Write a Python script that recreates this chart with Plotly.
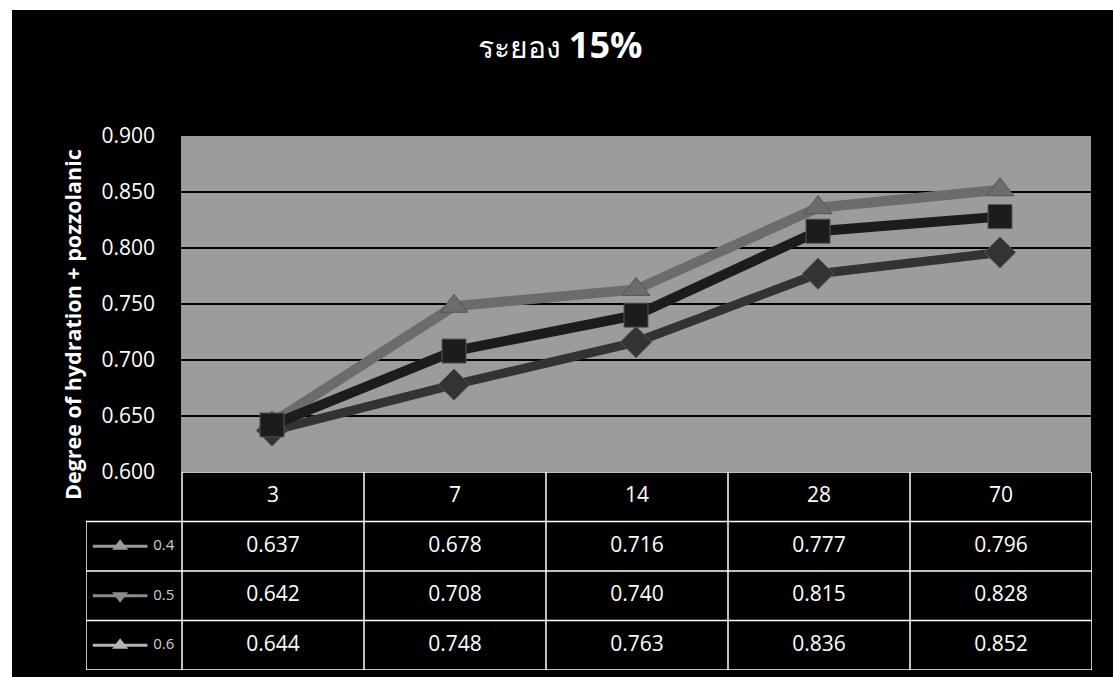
import plotly.graph_objects as go

# ---- data ----
categories = ["3", "7", "14", "28", "70"]
series_names = ["0.4", "0.5", "0.6"]
s04 = [0.637, 0.678, 0.716, 0.777, 0.796]
s05 = [0.642, 0.708, 0.740, 0.815, 0.828]
s06 = [0.644, 0.748, 0.763, 0.836, 0.852]
y_ticks = [0.600, 0.650, 0.700, 0.750, 0.800, 0.850, 0.900]
title_text = "ระยอง"
title_pct = "15%"
y_title = "Degree of hydration + pozzolanic"

series_vals = [s04, s05, s06]

W, H = 1113, 677
def px(x):
    return x / W
def py(y):
    return 1 - y / H

FONT = "Open Sans, Noto Sans, sans-serif"

line_colors = ["#333333", "#1c1c1c", "#6c6c6c"]
plot_markers = ["diamond", "square", "triangle-up"]
legend_markers = ["triangle-up", "triangle-down", "triangle-up"]
legend_colors = ["#9a9a9a", "#8c8c8c", "#b4b4b4"]
line_widths = [9, 10, 10]

fig = go.Figure()

# draw order: 0.6, 0.4, 0.5
for i in [2, 0, 1]:
    fig.add_trace(go.Scatter(
        x=categories, y=series_vals[i], mode="lines+markers",
        name=series_names[i],
        line=dict(color=line_colors[i], width=line_widths[i]),
        marker=dict(symbol=plot_markers[i], size=24, color=line_colors[i],
                    line=dict(color="#555555", width=1)),
        xaxis="x", yaxis="y", showlegend=False,
    ))

# ---- data table on x2 / y2 ----
n = len(categories)
CELL = 21
fig.add_trace(go.Scatter(
    x=list(range(n)), y=[0.5] * n, mode="text", text=categories,
    textfont=dict(color="white", size=CELL, family=FONT),
    xaxis="x2", yaxis="y2", showlegend=False, hoverinfo="skip"))
for r, vals in enumerate(series_vals):
    fig.add_trace(go.Scatter(
        x=list(range(n)), y=[r + 1.5] * n, mode="text",
        text=["%.3f" % v for v in vals],
        textfont=dict(color="white", size=CELL, family=FONT),
        xaxis="x2", yaxis="y2", showlegend=False, hoverinfo="skip"))
    fig.add_trace(go.Scatter(
        x=[-0.99, -0.69], y=[r + 1.5, r + 1.5], mode="lines",
        line=dict(color=legend_colors[r], width=3),
        xaxis="x2", yaxis="y2", showlegend=False, hoverinfo="skip"))
    fig.add_trace(go.Scatter(
        x=[-0.84], y=[r + 1.5], mode="markers",
        marker=dict(symbol=legend_markers[r], size=14, color=legend_colors[r]),
        xaxis="x2", yaxis="y2", showlegend=False, hoverinfo="skip"))
    fig.add_trace(go.Scatter(
        x=[-0.6], y=[r + 1.5], mode="text", text=[series_names[r]],
        textfont=dict(color="#d0d0d0", size=15, family=FONT),
        xaxis="x2", yaxis="y2", showlegend=False, hoverinfo="skip"))

shapes = [
    # grey plot area (below gridlines)
    dict(type="rect", xref="x domain", yref="y domain", x0=0, x1=1, y0=0, y1=1,
         fillcolor="#9c9c9c", line=dict(width=0), layer="below"),
    # white page strips outside the black chart
    dict(type="rect", xref="paper", yref="paper", x0=0, x1=1, y0=py(10), y1=1,
         fillcolor="white", line=dict(width=0), layer="above"),
    dict(type="rect", xref="paper", yref="paper", x0=0, x1=px(12), y0=0, y1=1,
         fillcolor="white", line=dict(width=0), layer="above"),
]
lc = dict(color="white", width=1.5)
x_left = -0.5 - 96 / 182
for r in range(len(series_vals) + 2):
    x0 = -0.5 if r == 0 else x_left
    shapes.append(dict(type="line", xref="x2", yref="y2", x0=x0, x1=n - 0.5,
                       y0=r, y1=r, line=lc))
for c in range(n + 1):
    shapes.append(dict(type="line", xref="x2", yref="y2", x0=c - 0.5, x1=c - 0.5,
                       y0=0, y1=len(series_vals) + 1, line=lc))
shapes.append(dict(type="line", xref="x2", yref="y2", x0=x_left, x1=x_left,
                   y0=1, y1=len(series_vals) + 1, line=lc))

annotations = [
    dict(text=f"{title_text} <b><span style='font-size:36px'>{title_pct}</span></b>",
         x=px(560), y=py(45), xref="paper", yref="paper", showarrow=False,
         xanchor="center", yanchor="middle",
         font=dict(color="white", size=30, family=FONT)),
    dict(text=f"<b>{y_title}</b>", x=px(72), y=py(325), xref="paper", yref="paper",
         showarrow=False, textangle=-90, xanchor="center", yanchor="middle",
         font=dict(color="white", size=21.5, family=FONT)),
]

fig.update_layout(
    width=W, height=H,
    margin=dict(l=0, r=0, t=0, b=0, pad=0, autoexpand=False),
    paper_bgcolor="black",
    plot_bgcolor="rgba(0,0,0,0)",
    shapes=shapes,
    annotations=annotations,
    xaxis=dict(domain=[px(181), px(1091)], type="category",
               range=[-0.5, n - 0.5], showticklabels=False, showgrid=False,
               zeroline=False, anchor="y", automargin=False),
    yaxis=dict(domain=[py(472), py(136)], range=[0.6, 0.9],
               tickvals=y_ticks, tickformat=".3f",
               tickfont=dict(color="white", size=21, family=FONT),
               showgrid=True, gridcolor="black", gridwidth=1.5,
               zeroline=False, ticks="", ticklabelstandoff=25, anchor="x",
               automargin=False),
    xaxis2=dict(domain=[px(86), px(1092)], range=[x_left, n - 0.5],
                showticklabels=False, showgrid=False, zeroline=False,
                anchor="y2", fixedrange=True, automargin=False),
    yaxis2=dict(domain=[py(670), py(472)], range=[len(series_vals) + 1, 0],
                showticklabels=False, showgrid=False, zeroline=False,
                anchor="x2", fixedrange=True, automargin=False),
    showlegend=False,
)

fig.write_html("out.html")
